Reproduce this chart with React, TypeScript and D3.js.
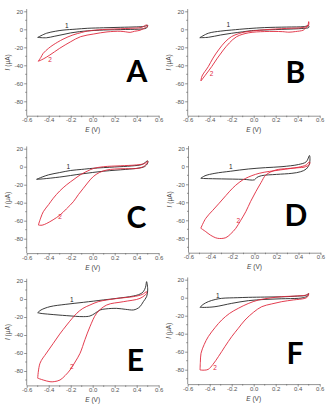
import * as d3 from "d3";
import React, { useEffect, useRef } from "react";

type Pt = [number, number];

// potential (V) / current (µA) loops, traced clockwise from the cathodic tip
const curveA1: Pt[] = [[-0.5, -9], [-0.42, -4.4], [-0.34, -2.2], [-0.27, -0.9], [-0.15, 0.2], [-0.05, 1.1], [0.1, 1.7], [0.25, 2.2], [0.4, 2.7], [0.47, 3.2], [0.5, 4.5], [0.49, 1.5], [0.45, 0.4], [0.3, -0.2], [0.1, -0.8], [-0.05, -1.8], [-0.12, -2.6], [-0.2, -4], [-0.27, -5.8], [-0.35, -7.8], [-0.42, -9.4], [-0.5, -9]];
const curveA2: Pt[] = [[-0.495, -35.5], [-0.47, -31], [-0.45, -26.7], [-0.4, -21], [-0.36, -17.4], [-0.27, -11], [-0.18, -6.3], [-0.1, -3.5], [-0.05, -2], [0.05, -0.6], [0.13, 0], [0.25, 0.6], [0.34, 1.1], [0.44, 2], [0.49, 4.8], [0.5, 3.5], [0.48, 2], [0.43, -1.1], [0.38, -2.2], [0.34, -3.4], [0.3, -2.8], [0.25, -2.2], [0.13, -2.9], [0.01, -5.2], [-0.11, -8.2], [-0.2, -13.8], [-0.3, -21.1], [-0.39, -28.6], [-0.45, -33], [-0.495, -35.5]];

const curveB1: Pt[] = [[-0.49, -9.3], [-0.413, -4.4], [-0.3, -2], [-0.2, -0.8], [-0.05, 0.8], [0.1, 1.9], [0.3, 2.5], [0.46, 3], [0.5, 4], [0.5, 2], [0.45, 1], [0.25, -0.1], [0.05, -1], [-0.02, -1.5], [-0.1, -2.8], [-0.2, -4.4], [-0.3, -6.3], [-0.413, -8.9], [-0.49, -9.3]];
const curveB2: Pt[] = [[-0.48, -57.4], [-0.47, -52], [-0.413, -41.5], [-0.37, -32], [-0.32, -23], [-0.26, -14], [-0.2, -8], [-0.14, -5], [-0.08, -3], [0.1, -0.5], [0.3, 1], [0.45, 2], [0.49, 4], [0.5, 8.5], [0.5, 5], [0.47, 1], [0.45, -1], [0.38, -2.5], [0.32, -3.2], [0.26, -2.6], [0.1, -2.5], [-0.05, -4], [-0.155, -8.2], [-0.22, -15], [-0.276, -23], [-0.33, -32], [-0.382, -41.5], [-0.44, -51], [-0.48, -57.4]];

const curveC1: Pt[] = [[-0.51, -14], [-0.46, -11.5], [-0.4, -9], [-0.3, -6.5], [-0.2, -4.2], [-0.1, -3], [0, -1.8], [0.2, -0.3], [0.35, 0.8], [0.45, 2.5], [0.5, 6.5], [0.5, 4], [0.47, 0], [0.42, -1.5], [0.3, -3], [0.1, -5], [-0.1, -8], [-0.3, -11.5], [-0.45, -13.5], [-0.51, -14]];
const curveC2: Pt[] = [[-0.494, -64.8], [-0.47, -56], [-0.449, -50], [-0.4, -42], [-0.358, -35], [-0.3, -27], [-0.236, -20], [-0.17, -14], [-0.115, -9.2], [-0.05, -5], [0.006, -2], [0.1, 0], [0.25, 1], [0.4, 2], [0.47, 3.5], [0.5, 6], [0.49, 3], [0.45, -0.5], [0.4, -2], [0.3, -2.2], [0.2, -2.6], [0.127, -3.7], [0.06, -6.5], [0.005, -11], [-0.04, -17], [-0.085, -24], [-0.13, -31], [-0.176, -38.9], [-0.24, -47], [-0.297, -53.7], [-0.36, -59], [-0.418, -63], [-0.46, -65], [-0.494, -64.8]];

const curveD1: Pt[] = [[-0.488, -13.3], [-0.45, -10.5], [-0.36, -7.8], [-0.22, -5.5], [-0.056, -3], [0.1, -1.5], [0.25, -0.4], [0.4, 2], [0.47, 5], [0.5, 12], [0.5, 3], [0.47, -3], [0.42, -6], [0.34, -7.8], [0.2, -9], [0.065, -10.4], [0.02, -12.5], [0, -15], [-0.1, -14.5], [-0.3, -14], [-0.45, -13.6], [-0.488, -13.3]];
const curveD2: Pt[] = [[-0.488, -68.8], [-0.443, -57.8], [-0.38, -49], [-0.321, -41], [-0.26, -32.5], [-0.2, -24.4], [-0.14, -18], [-0.079, -13.3], [0.042, -7.8], [0.236, -4], [0.4, -1], [0.47, 1.5], [0.5, 5], [0.5, 2], [0.45, -1], [0.405, -1.5], [0.3, -2.5], [0.194, -4.1], [0.103, -9.7], [0.06, -18], [0.012, -28.2], [-0.035, -39], [-0.079, -50.4], [-0.125, -60], [-0.17, -68.9], [-0.22, -75.5], [-0.261, -79.3], [-0.336, -80], [-0.4, -76.5], [-0.443, -72.6], [-0.488, -68.8]];

const curveE1: Pt[] = [[-0.5, -15.2], [-0.47, -12.2], [-0.388, -8.5], [-0.25, -6], [-0.085, -3.7], [0.1, -1], [0.218, 0.7], [0.369, 3.3], [0.43, 5.5], [0.46, 8.1], [0.48, 13], [0.49, 19.3], [0.5, 10], [0.49, 2.6], [0.46, -3], [0.43, -8.5], [0.4, -11], [0.369, -12.2], [0.3, -11.5], [0.218, -10.4], [0.12, -11], [0.067, -12.2], [0.02, -16], [-0.025, -18.9], [-0.085, -19.6], [-0.236, -18.5], [-0.388, -17], [-0.47, -16], [-0.5, -15.2]];
const curveE2: Pt[] = [[-0.5, -88], [-0.479, -71.4], [-0.42, -60], [-0.358, -49.2], [-0.3, -39], [-0.236, -28.9], [-0.19, -22], [-0.145, -15.9], [-0.09, -10.5], [-0.025, -6.7], [0.05, -3], [0.127, -1.1], [0.25, 1], [0.369, 2.6], [0.45, 5], [0.49, 8.1], [0.49, 6.3], [0.43, 0.7], [0.278, -3], [0.127, -6.7], [0.036, -15.9], [-0.025, -30.8], [-0.07, -45], [-0.115, -60.3], [-0.16, -70], [-0.206, -78.9], [-0.25, -85], [-0.297, -90], [-0.35, -91.8], [-0.388, -91.9], [-0.45, -90], [-0.5, -88]];

const curveF1: Pt[] = [[-0.488, -10.7], [-0.46, -7.5], [-0.413, -4.4], [-0.35, -2], [-0.291, -0.7], [-0.15, 0], [-0.048, 0.4], [0.1, 0.7], [0.255, 1], [0.4, 1.8], [0.47, 2.5], [0.5, 4.5], [0.49, 2], [0.45, 0], [0.406, -0.7], [0.25, -1.2], [0.103, -1.9], [-0.049, -3.3], [-0.2, -6.3], [-0.352, -10], [-0.45, -10.8], [-0.488, -10.7]];
const curveF2: Pt[] = [[-0.488, -80.3], [-0.485, -72], [-0.479, -61.8], [-0.45, -52], [-0.413, -43.3], [-0.35, -33], [-0.291, -24.8], [-0.22, -17.5], [-0.14, -11.8], [-0.05, -6.5], [0.042, -2.6], [0.15, -0.3], [0.255, 1.1], [0.4, 2], [0.48, 3], [0.5, 4.5], [0.5, 4], [0.49, 1], [0.466, -0.7], [0.36, -2.5], [0.255, -4.4], [0.16, -7], [0.073, -10], [0, -16], [-0.079, -24.8], [-0.14, -34], [-0.2, -43.3], [-0.26, -54], [-0.321, -65.5], [-0.37, -74], [-0.413, -79.6], [-0.45, -80.5], [-0.488, -80.3]];

// where the "1" and "2" trace tags sit, in (E, I)
const tagPos1: Pt[] = [[-0.236, 4], [-0.231, 4.8], [-0.222, 0], [-0.216, 0], [-0.191, -0.3], [-0.327, 2.7]];
const tagPos2: Pt[] = [[-0.388, -33.3], [-0.382, -49.7], [-0.297, -55.6], [-0.147, -60.8], [-0.191, -75], [-0.352, -77.3]];

const panelNames = ["A", "B", "C", "D", "E", "F"];
const xTicks = [-0.6, -0.4, -0.2, 0.0, 0.2, 0.4, 0.6];
const yTicks = [20, 0, -20, -40, -60, -80];

const traces1 = [curveA1, curveB1, curveC1, curveD1, curveE1, curveF1];
const traces2 = [curveA2, curveB2, curveC2, curveD2, curveE2, curveF2];

// panel placement: pixel of E = -0.6 and of I = 0, plus the letter centre
const frames = [
  { left: 26.7, zero: 29.3, lx: 137, ly: 71 },
  { left: 187.7, zero: 29.3, lx: 295.5, ly: 72.5 },
  { left: 26.7, zero: 166.7, lx: 136.5, ly: 217 },
  { left: 188.5, zero: 166.3, lx: 296, ly: 215 },
  { left: 26.7, zero: 299, lx: 135.5, ly: 360 },
  { left: 187.7, zero: 297.7, lx: 295, ly: 353.5 },
];

const BLACK = "#262626";
const RED = "#e0283c";
const AXIS = "#666";
const FONT = "'Liberation Sans', Arial, sans-serif";

const App = () => {
  const svgRef = useRef<SVGSVGElement>(null);

  useEffect(() => {
    const svg = d3.select(svgRef.current);
    svg.selectAll("*").remove();

    svg.append("rect").attr("width", 330).attr("height", 404).attr("fill", "#fff");

    frames.forEach((f, i) => {
      const x = d3.scaleLinear().domain([-0.6, 0.6]).range([f.left, f.left + 132]);
      const y = d3.scaleLinear().domain([0, -96]).range([f.zero, f.zero + 86.4]);
      const yTop = y(22.5);
      const g = svg.append("g");

      // x axis
      const xa = g.append("g")
        .attr("transform", `translate(0,${y(-96)})`)
        .call(
          d3.axisBottom(x)
            .tickValues(xTicks)
            .tickSize(2.5)
            .tickSizeOuter(0)
            .tickFormat(d => (+d).toFixed(1))
        );
      xa.append("g").selectAll("line")
        .data(d3.range(-0.5, 0.6, 0.2))
        .enter().append("line")
        .attr("x1", d => x(d)).attr("x2", d => x(d))
        .attr("y1", 0).attr("y2", 1.5);

      // y axis
      const ya = g.append("g")
        .attr("transform", `translate(${x(-0.6)},0)`)
        .call(
          d3.axisLeft(y)
            .tickValues(yTicks)
            .tickSize(2.5)
            .tickSizeOuter(0)
            .tickFormat(d => String(d))
        );
      ya.select(".domain").attr("d", `M0,${yTop}V${y(-96)}`);
      ya.append("g").selectAll("line")
        .data([10, -10, -30, -50, -70, -90])
        .enter().append("line")
        .attr("x1", 0).attr("x2", -1.5)
        .attr("y1", d => y(d)).attr("y2", d => y(d));

      [xa, ya].forEach(a => {
        a.selectAll("path, line").attr("stroke", AXIS).attr("stroke-width", 0.7);
        a.selectAll("text")
          .attr("fill", "#555")
          .style("font-family", FONT)
          .style("font-size", "6px");
      });
      xa.selectAll(".tick text").attr("dy", "0.55em").attr("y", 3.2);
      ya.selectAll(".tick text").attr("x", -3.6);

      // axis titles
      const xt = g.append("text")
        .attr("x", x(0))
        .attr("y", y(-96) + 16.5)
        .attr("text-anchor", "middle")
        .attr("fill", "#444")
        .style("font-family", FONT)
        .style("font-size", "6.5px");
      xt.append("tspan").attr("font-style", "italic").text("E");
      xt.append("tspan").text(" (V)");

      const yt = g.append("text")
        .attr("transform", `translate(${x(-0.6) - 17},${(yTop + y(-96)) / 2}) rotate(-90)`)
        .attr("text-anchor", "middle")
        .attr("fill", "#444")
        .style("font-family", FONT)
        .style("font-size", "6.5px");
      yt.append("tspan").attr("font-style", "italic").text("I");
      yt.append("tspan").text(" (μA)");

      // voltammograms
      const line = d3.line<Pt>()
        .x(d => x(d[0]))
        .y(d => y(d[1]))
        .curve(d3.curveCatmullRom.alpha(0.5));

      g.append("path")
        .attr("d", line(traces1[i]))
        .attr("fill", "none")
        .attr("stroke", BLACK)
        .attr("stroke-width", 0.9);

      g.append("path")
        .attr("d", line(traces2[i]))
        .attr("fill", "none")
        .attr("stroke", RED)
        .attr("stroke-width", 0.9);

      // trace tags
      [[tagPos1[i], "1", BLACK], [tagPos2[i], "2", RED]].forEach(([p, t, c]) => {
        const pt = p as Pt;
        g.append("text")
          .attr("x", x(pt[0]))
          .attr("y", y(pt[1]))
          .attr("dy", "0.35em")
          .attr("text-anchor", "middle")
          .attr("fill", c as string)
          .style("font-family", FONT)
          .style("font-size", "6.5px")
          .text(t as string);
      });

      // panel letter
      g.append("text")
        .attr("x", f.lx)
        .attr("y", f.ly)
        .attr("dy", "0.36em")
        .attr("text-anchor", "middle")
        .attr("fill", "#000")
        .style("font-family", "Lato, 'Open Sans', sans-serif")
        .style("font-weight", 700)
        .style("font-size", "30px")
        .text(panelNames[i]);
    });
  }, []);

  return (
    <svg
      ref={svgRef}
      width={330}
      height={404}
      style={{ position: "absolute", left: 0, top: 0 }}
    />
  );
};

export default App;
